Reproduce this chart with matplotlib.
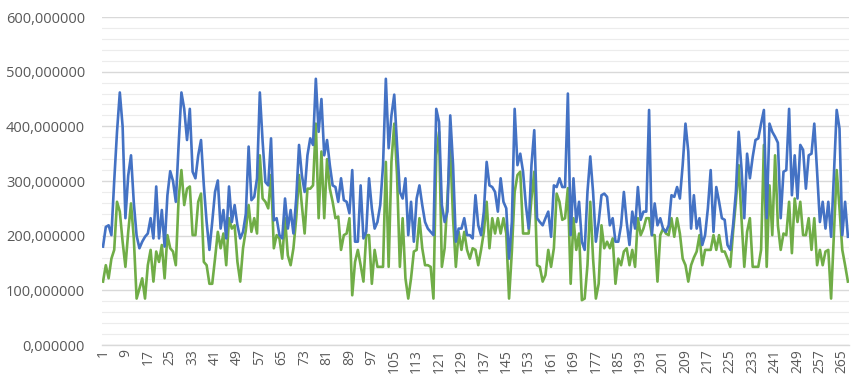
import matplotlib
matplotlib.use("Agg")
import matplotlib.pyplot as plt
from matplotlib.ticker import FuncFormatter, MultipleLocator

# series values, one per observation (1..267)
blue = [
    180, 216, 219, 201, 300, 390, 462, 400, 232, 310, 347, 260, 200, 177, 189, 198, 204, 232, 195, 290,
    195, 247, 180, 274, 318, 300, 262, 366, 462, 432, 375, 432, 317, 305, 347, 375, 292, 225, 174, 225,
    280, 301, 213, 247, 195, 290, 225, 256, 219, 195, 207, 240, 363, 265, 271, 305, 462, 372, 298, 292,
    378, 228, 232, 201, 195, 268, 213, 247, 204, 268, 366, 311, 280, 347, 378, 366, 487, 390, 450, 347,
    375, 329, 292, 289, 262, 305, 265, 262, 241, 320, 189, 189, 292, 195, 207, 305, 250, 213, 225, 256,
    329, 487, 360, 420, 458, 366, 280, 268, 305, 201, 262, 189, 268, 292, 256, 225, 213, 207, 201, 432,
    408, 256, 225, 244, 420, 329, 189, 213, 213, 232, 201, 201, 195, 274, 219, 201, 244, 335, 292, 289,
    280, 244, 305, 262, 250, 158, 225, 432, 329, 350, 317, 256, 213, 329, 393, 232, 225, 219, 232, 244,
    198, 292, 289, 305, 289, 289, 460, 201, 305, 225, 262, 189, 174, 280, 345, 280, 189, 225, 274, 277,
    271, 219, 232, 189, 189, 219, 280, 225, 183, 244, 213, 289, 229, 244, 244, 430, 201, 259, 219, 232,
    213, 207, 219, 274, 271, 289, 268, 329, 405, 354, 213, 274, 213, 232, 183, 201, 250, 320, 207, 289,
    262, 232, 229, 183, 174, 219, 280, 390, 323, 232, 350, 305, 344, 375, 378, 405, 430, 232, 405, 390,
    381, 370, 232, 317, 320, 432, 274, 347, 268, 366, 357, 286, 347, 350, 405, 317, 225, 262, 213, 262,
    198, 311, 430, 396, 201, 262, 198,
]
green = [
    116, 146, 122, 158, 174, 262, 244, 189, 143, 207, 259, 195, 85, 103, 122, 85, 146, 174, 116, 171,
    152, 183, 122, 201, 177, 171, 146, 268, 320, 256, 286, 290, 201, 201, 262, 277, 152, 146, 112, 112,
    158, 207, 177, 204, 146, 232, 213, 219, 152, 116, 177, 210, 256, 207, 232, 204, 347, 268, 262, 250,
    311, 177, 201, 195, 158, 232, 164, 146, 177, 232, 311, 256, 204, 286, 286, 292, 405, 232, 354, 232,
    340, 286, 262, 232, 235, 174, 201, 204, 232, 91, 152, 174, 146, 116, 201, 201, 112, 174, 143, 143,
    143, 335, 143, 335, 405, 311, 143, 232, 122, 85, 122, 171, 174, 232, 177, 146, 146, 143, 85, 347,
    390, 143, 177, 268, 360, 232, 143, 207, 174, 207, 174, 158, 177, 174, 146, 174, 207, 262, 177, 232,
    204, 232, 204, 232, 204, 85, 171, 280, 311, 317, 204, 204, 204, 268, 317, 146, 143, 116, 128, 174,
    143, 177, 277, 262, 229, 232, 287, 112, 232, 174, 204, 82, 85, 146, 262, 158, 85, 112, 219, 177,
    189, 177, 195, 112, 158, 146, 171, 177, 146, 174, 143, 232, 201, 213, 232, 232, 201, 201, 116, 201,
    213, 204, 201, 232, 198, 232, 204, 158, 146, 116, 146, 160, 171, 201, 146, 174, 174, 174, 201, 174,
    201, 171, 171, 158, 143, 207, 262, 329, 232, 143, 207, 232, 143, 143, 143, 174, 366, 143, 292, 201,
    347, 219, 174, 204, 201, 262, 168, 268, 225, 262, 201, 201, 232, 174, 232, 146, 174, 146, 171, 174,
    85, 201, 320, 250, 174, 146, 116,
]
x = list(range(1, len(blue) + 1))
tick_labels = [str(i) for i in range(1, len(blue) + 1, 8)]

plt.rcParams["font.family"] = ["Open Sans", "DejaVu Sans"]

fig = plt.figure(figsize=(8.51, 3.87), dpi=100)
ax = fig.add_axes([0.1194, 0.1085, 0.8786, 0.8475])

ax.plot(x, blue, color="#4472C4", lw=1.9, zorder=3)
ax.plot(x, green, color="#70AD47", lw=1.9, zorder=2)

ax.set_xlim(0.5, len(blue) + 0.5)
ax.set_ylim(0, 600)
ax.yaxis.set_major_locator(MultipleLocator(100))
ax.yaxis.set_minor_locator(MultipleLocator(20))
ax.yaxis.set_major_formatter(FuncFormatter(lambda v, _: f"{v:.6f}".replace(".", ",")))
ax.grid(axis="y", which="major", color="#d9d9d9", lw=1.0, zorder=0)
ax.grid(axis="y", which="minor", color="#ececec", lw=0.8, zorder=0)

ax.set_xticks(range(1, len(blue) + 1, 8))
ax.set_xticklabels(tick_labels, rotation=90)
ax.tick_params(axis="x", length=0, pad=3, labelsize=10, colors="#595959")
ax.tick_params(axis="y", which="both", length=0, pad=12, labelsize=10.5, colors="#595959")

for side in ("top", "right", "left"):
    ax.spines[side].set_visible(False)
ax.spines["bottom"].set_color("#d9d9d9")
ax.spines["bottom"].set_linewidth(1.0)

fig.savefig("out.png", dpi=100)
